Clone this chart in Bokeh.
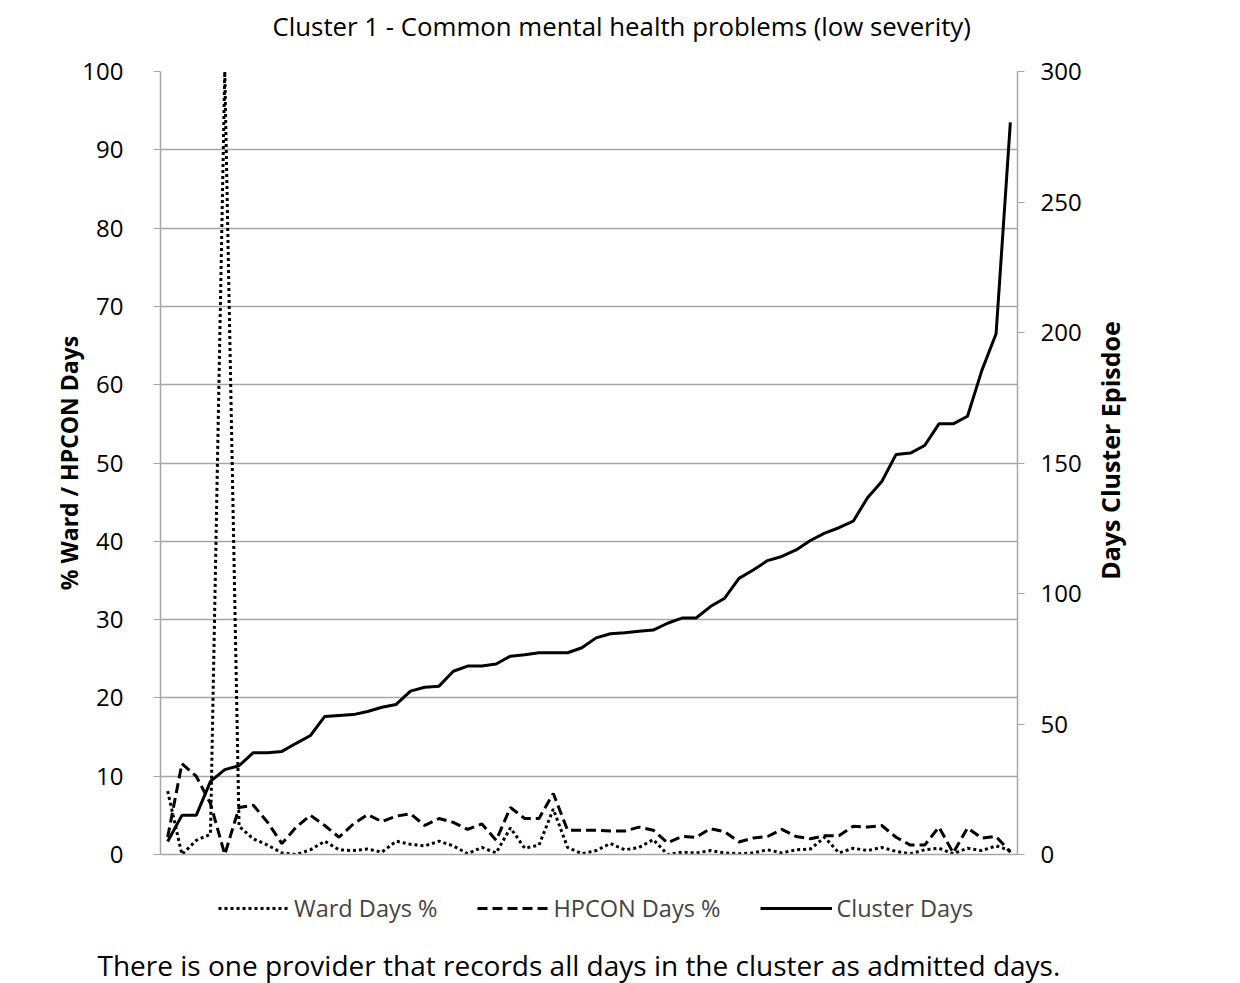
import math
from bokeh.plotting import figure
from bokeh.layouts import column, row
from bokeh.models import Range1d, LinearAxis, Legend, LegendItem, Label, FixedTicker
from bokeh.embed import file_html
from bokeh.resources import INLINE

ward_days_pct = [8.1, 0, 1.8, 2.6, 100, 3.6, 2.0, 1.2, 0.2, 0, 0.6, 1.7, 0.6, 0.5, 0.7, 0.3, 1.7, 1.3, 1.1, 1.7,
                 1.1, 0.1, 0.9, 0.2, 3.4, 0.8, 1.2, 5.8, 0.9, 0.1, 0.5, 1.4, 0.6, 0.9, 1.9, 0, 0.3, 0.2, 0.5, 0.2,
                 0.1, 0.2, 0.6, 0.2, 0.6, 0.7, 2.2, 0.2, 0.8, 0.5, 0.9, 0.4, 0.1, 0.6, 0.8, 0.1, 0.8, 0.5, 1.1, 0.5]
hpcon_days_pct = [2.2, 11.6, 10.0, 6.5, 0, 6.0, 6.3, 4.1, 1.4, 3.5, 5.0, 3.7, 2.2, 3.9, 5.1, 4.2, 4.9, 5.2, 3.7, 4.6,
                  4.1, 3.2, 3.9, 1.8, 6.0, 4.6, 4.6, 7.8, 3.1, 3.1, 3.1, 3.0, 3.0, 3.5, 3.1, 1.5, 2.3, 2.2, 3.3, 2.9,
                  1.6, 2.1, 2.3, 3.2, 2.3, 2.0, 2.4, 2.4, 3.6, 3.5, 3.7, 2.2, 1.2, 1.2, 3.5, 0.2, 3.4, 2.1, 2.3, 0.3]
cluster_days = [5, 15, 15, 28, 32.5, 34, 39, 39, 39.5, 42.6, 45.6, 52.9, 53.3, 53.6, 54.8, 56.4, 57.5, 62.6, 64.1, 64.5,
                70.2, 72.2, 72.2, 73, 76, 76.5, 77.3, 77.3, 77.3, 79.2, 83, 84.6, 85, 85.5, 86, 88.6, 90.6, 90.6, 95, 98.2,
                105.8, 109, 112.6, 114.2, 116.7, 120.3, 123.1, 125.2, 127.7, 136.7, 142.9, 153.3, 153.8, 156.7, 165, 165,
                167.9, 185.4, 199.5, 280.5]
left_ticks = [0, 10, 20, 30, 40, 50, 60, 70, 80, 90, 100]
right_ticks = [0, 50, 100, 150, 200, 250, 300]
series_names = ["Ward Days %", "HPCON Days %", "Cluster Days"]

n = len(cluster_days)
xs = [i + 0.5 for i in range(n)]

FONT = "Open Sans"
GRID = "#a6a6a6"
DASHES = ["3 3", "10 5", "solid"]


def strip(w, h, **kw):
    f = figure(width=w, height=h, output_backend="svg", toolbar_location=None,
               x_axis_type=None, y_axis_type=None, min_border=0,
               background_fill_color="white", border_fill_color="white", **kw)
    f.outline_line_color = None
    f.grid.visible = False
    return f


# ---------------- title strip ----------------
p4 = strip(1232, 50)
p4.add_layout(Label(x=272, y=25, x_units="screen", y_units="screen",
                    text="Cluster 1 - Common mental health problems (low severity)",
                    text_font=FONT, text_font_size="25.8px", text_color="black",
                    text_align="left", text_baseline="middle"))

# ---------------- main chart ----------------
p = figure(width=1090, height=820, output_backend="svg", toolbar_location=None,
           x_range=Range1d(0, n), y_range=Range1d(0, 100),
           min_border_left=160, min_border_right=73, min_border_top=21, min_border_bottom=16,
           background_fill_color="white", border_fill_color="white")
p.extra_y_ranges = {"days": Range1d(0, 300)}

p.outline_line_color = None
p.xgrid.visible = False
p.ygrid.ticker = FixedTicker(ticks=left_ticks)
p.ygrid.grid_line_color = GRID
p.ygrid.grid_line_width = 1.5

ax = p.yaxis[0]
ax.ticker = FixedTicker(ticks=left_ticks)
ax.axis_line_color = GRID
ax.axis_line_width = 1.5
ax.major_tick_line_color = GRID
ax.major_tick_out = 7
ax.major_tick_in = 0
ax.minor_tick_line_color = None
ax.major_label_text_font = FONT
ax.major_label_text_font_size = "24px"
ax.major_label_text_color = "black"
ax.major_label_standoff = 30
ax.axis_label = "% Ward / HPCON Days"
ax.axis_label_text_font = FONT
ax.axis_label_text_font_size = "23px"
ax.axis_label_text_font_style = "bold"
ax.axis_label_text_color = "black"
ax.axis_label_standoff = -6

xa = p.xaxis[0]
xa.ticker = FixedTicker(ticks=[])
xa.major_label_text_font_size = "0px"
xa.axis_line_color = GRID
xa.axis_line_width = 1.5
xa.major_tick_line_color = None
xa.minor_tick_line_color = None

ra = LinearAxis(y_range_name="days", ticker=FixedTicker(ticks=right_ticks))
ra.axis_line_color = GRID
ra.axis_line_width = 1.5
ra.major_tick_line_color = GRID
ra.major_tick_out = 7
ra.major_tick_in = 0
ra.minor_tick_line_color = None
ra.major_label_text_font = FONT
ra.major_label_text_font_size = "24px"
ra.major_label_text_color = "black"
ra.major_label_standoff = 16
p.add_layout(ra, "right")

p.line(xs, ward_days_pct, line_color="black", line_width=3, line_dash=DASHES[0])
p.line(xs, hpcon_days_pct, line_color="black", line_width=3, line_dash=DASHES[1])
p.line(xs, cluster_days, line_color="black", line_width=3, line_dash=DASHES[2], y_range_name="days")

# ---------------- right axis title strip ----------------
p3 = strip(142, 820)
p3.add_layout(Label(x=19, y=404, x_units="screen", y_units="screen", angle=math.pi / 2,
                    text="Days Cluster Episdoe", text_font=FONT, text_font_size="25px",
                    text_font_style="bold", text_color="black",
                    text_align="center", text_baseline="middle"))

# ---------------- legend + note strip ----------------
p2 = strip(1232, 113, x_range=Range1d(0, n), y_range=Range1d(-300, -200))
items = []
for name, dash, vals in zip(series_names, DASHES, [ward_days_pct, hpcon_days_pct, cluster_days]):
    r = p2.line(xs, vals, line_color="black", line_width=3, line_dash=dash)
    items.append(LegendItem(label=name, renderers=[r]))
legend = Legend(items=items, orientation="horizontal", location=(218, 59),
                border_line_color=None, background_fill_alpha=0,
                glyph_width=72, glyph_height=20, label_standoff=4, spacing=40,
                label_text_font=FONT, label_text_font_size="23.5px", padding=0, margin=0)
p2.add_layout(legend, "center")
p2.add_layout(Label(x=97, y=19, x_units="screen", y_units="screen",
                    text="There is one provider that records all days in the cluster as admitted days.",
                    text_font=FONT, text_font_size="28px", text_color="black",
                    text_align="left", text_baseline="alphabetic"))

layout = column(p4, row(p, p3), p2)
open("out.html", "w").write(file_html(layout, INLINE))
